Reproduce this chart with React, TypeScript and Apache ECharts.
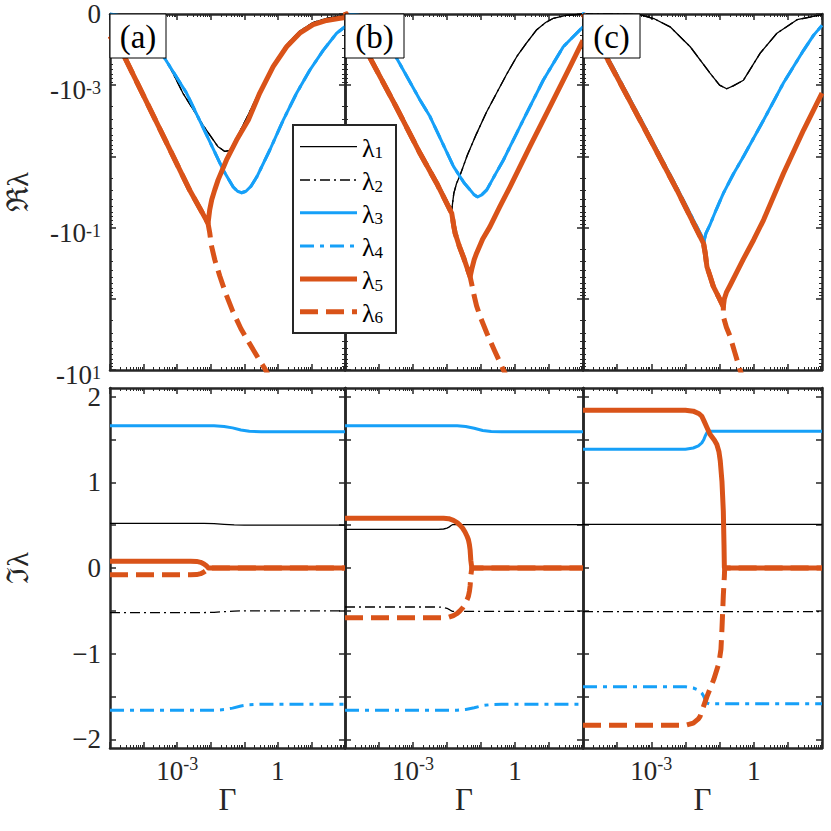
import React, { useEffect, useRef } from 'react';
import * as echarts from 'echarts';

// x values are log10(Γ); top-row y values are log10(−Re λ); bottom-row y values are Im λ.
const GAMMA_MIN = -5;
const GAMMA_MAX = 2;
const RE_MIN = -4;
const RE_MAX = 1;
const IM_MIN = -2.1;
const IM_MAX = 2.1;

const LAMBDA_NAMES = ['λ1', 'λ2', 'λ3', 'λ4', 'λ5', 'λ6'];
const PANEL_TAGS = ['(a)', '(b)', '(c)'];
const GAMMA_TICKS = [-5, -4, -3, -2, -1, 0, 1, 2];
const GAMMA_LABELED = [-3, 0];
const RE_TICKS = [-4, -3, -2, -1, 0, 1];
const RE_LABELED = [-4, -3, -1, 1];
const IM_TICKS = [-2, -1.5, -1, -0.5, 0, 0.5, 1, 1.5, 2];
const IM_LABELED = [-2, -1, 0, 1, 2];

// ---------- Panel (a), real parts ----------
const reA1 = [[-5, -4.0], [-4.6, -3.98], [-4.2, -3.88], [-3.8, -3.66], [-3.36, -3.39], [-2.83, -2.89], [-2.23, -2.44], [-1.79, -2.14], [-1.58, -2.07], [-1.46, -2.08], [-1.4, -2.11], [-1.23, -2.26], [-0.93, -2.54], [-0.54, -2.92], [-0.14, -3.29], [0.26, -3.57], [0.65, -3.76], [1.05, -3.88], [1.45, -3.94], [2.0, -3.98]];
const reA2 = reA1;
const reA3 = [[-5, -4.0], [-4.6, -3.97], [-4.2, -3.87], [-3.8, -3.66], [-3.4, -3.4], [-2.72, -2.89], [-2.12, -2.3], [-1.63, -1.81], [-1.33, -1.57], [-1.2, -1.51], [-1.08, -1.49], [-0.95, -1.51], [-0.8, -1.58], [-0.63, -1.71], [-0.24, -2.09], [0.16, -2.51], [0.56, -2.89], [0.95, -3.21], [1.35, -3.49], [1.75, -3.73], [2.0, -3.82]];
const reA4 = reA3;
const reA5 = [[-5, -3.69], [-4.55, -3.38], [-3.51, -2.38], [-2.62, -1.52], [-2.3, -1.25], [-2.08, -1.06], [-2.03, -1.25], [-1.97, -1.39], [-1.88, -1.53], [-1.78, -1.67], [-1.53, -1.95], [-1.23, -2.23], [-0.88, -2.51], [-0.54, -2.89], [-0.14, -3.26], [0.26, -3.54], [0.65, -3.73], [1.05, -3.85], [1.45, -3.91], [1.85, -3.94], [2.0, -3.95]];
const reA6 = [[-5, -3.69], [-4.55, -3.38], [-3.51, -2.38], [-2.62, -1.52], [-2.3, -1.25], [-2.08, -1.06], [-2.03, -0.93], [-1.98, -0.75], [-1.88, -0.55], [-1.73, -0.32], [-1.55, -0.07], [-1.34, 0.18], [-1.1, 0.42], [-0.83, 0.64], [-0.6, 0.82], [-0.39, 0.98], [-0.3, 1.06]];

// ---------- Panel (b), real parts ----------
const reB1 = [[-5, -4.05], [-4.26, -3.42], [-3.5, -2.74], [-2.79, -2.08], [-2.3, -1.66], [-1.86, -1.25], [-1.8, -1.48], [-1.72, -1.62], [-1.62, -1.73], [-1.4, -2.02], [-1.13, -2.32], [-0.84, -2.62], [-0.54, -2.89], [-0.25, -3.15], [0.05, -3.4], [0.35, -3.6], [0.64, -3.78], [0.9, -3.88], [1.13, -3.94], [1.5, -3.98], [2.0, -4.0]];
const reB2 = reB1;
const reB3 = [[-5, -4.0], [-4.5, -3.98], [-4.1, -3.85], [-3.48, -3.38], [-2.79, -2.79], [-2.5, -2.56], [-1.81, -1.86], [-1.5, -1.63], [-1.32, -1.53], [-1.2, -1.46], [-1.1, -1.43], [-0.98, -1.46], [-0.83, -1.53], [-0.6, -1.73], [-0.34, -1.95], [0.24, -2.51], [0.83, -3.07], [1.42, -3.54], [2.0, -3.82]];
const reB4 = reB3;
const reB5 = [[-5, -4.03], [-4.26, -3.38], [-3.5, -2.7], [-2.79, -2.04], [-2.3, -1.62], [-1.86, -1.2], [-1.8, -1.02], [-1.76, -0.92], [-1.64, -0.74], [-1.52, -0.59], [-1.32, -0.31], [-1.27, -0.42], [-1.2, -0.55], [-1.13, -0.64], [-0.95, -0.84], [-0.74, -1.01], [-0.45, -1.29], [-0.15, -1.57], [0.44, -2.14], [1.03, -2.7], [1.62, -3.26], [2.0, -3.63]];
const reB6 = [[-5, -4.03], [-4.26, -3.38], [-3.5, -2.7], [-2.79, -2.04], [-2.3, -1.62], [-1.86, -1.2], [-1.8, -1.02], [-1.76, -0.92], [-1.64, -0.74], [-1.52, -0.59], [-1.32, -0.31], [-1.27, -0.2], [-1.2, -0.04], [-1.13, 0.1], [-1.0, 0.28], [-0.83, 0.48], [-0.6, 0.73], [-0.34, 1.0], [-0.28, 1.06]];

// ---------- Panel (c), real parts ----------
const reC1 = [[-5, -4.0], [-4.0, -4.0], [-3.33, -3.99], [-2.9, -3.93], [-2.45, -3.82], [-1.86, -3.54], [-1.28, -3.17], [-1.0, -3.0], [-0.79, -2.95], [-0.6, -2.99], [-0.3, -3.07], [0.19, -3.45], [0.68, -3.73], [1.27, -3.92], [2.0, -3.99]];
const reC2 = reC1;
const reC3 = [[-5, -4.03], [-4.3, -3.41], [-3.23, -2.45], [-2.25, -1.56], [-1.5, -0.86], [-1.46, -0.74], [-1.44, -0.84], [-1.4, -0.92], [-1.28, -1.04], [-1.1, -1.25], [-0.89, -1.48], [-0.6, -1.75], [-0.3, -2.0], [0.29, -2.51], [0.87, -3.03], [1.46, -3.49], [1.75, -3.7], [2.0, -3.84]];
const reC4 = reC3;
const reC5 = [[-5, -4.0], [-4.3, -3.38], [-3.23, -2.42], [-2.25, -1.53], [-1.47, -0.78], [-1.42, -0.64], [-1.37, -0.45], [-1.28, -0.32], [-1.18, -0.17], [-1.0, 0.0], [-0.89, 0.11], [-0.86, 0.0], [-0.8, -0.09], [-0.69, -0.19], [-0.5, -0.37], [-0.3, -0.56], [0.0, -0.83], [0.29, -1.11], [0.87, -1.76], [1.46, -2.37], [2.0, -2.89]];
const reC6 = [[-5, -4.0], [-4.3, -3.38], [-3.23, -2.42], [-2.25, -1.53], [-1.47, -0.78], [-1.42, -0.64], [-1.37, -0.45], [-1.28, -0.32], [-1.18, -0.17], [-1.0, 0.0], [-0.89, 0.11], [-0.89, 0.25], [-0.8, 0.4], [-0.69, 0.53], [-0.55, 0.76], [-0.4, 1.0], [-0.35, 1.07]];

// ---------- Panel (a), imaginary parts ----------
const imA1 = [[-5, 0.52], [-2.2, 0.52], [-1.9, 0.517], [-1.6, 0.51], [-1.3, 0.503], [-1.0, 0.5], [2, 0.5]];
const imA2 = [[-5, -0.52], [-2.2, -0.52], [-1.9, -0.517], [-1.6, -0.51], [-1.3, -0.503], [-1.0, -0.5], [2, -0.5]];
const imA3 = [[-5, 1.66], [-1.9, 1.66], [-1.6, 1.652], [-1.35, 1.635], [-1.1, 1.61], [-0.85, 1.595], [-0.5, 1.59], [2, 1.59]];
const imA4 = [[-5, -1.66], [-1.9, -1.66], [-1.6, -1.652], [-1.35, -1.635], [-1.1, -1.61], [-0.85, -1.595], [-0.5, -1.59], [2, -1.59]];
const imA5 = [[-5, 0.08], [-2.6, 0.08], [-2.42, 0.077], [-2.3, 0.066], [-2.2, 0.047], [-2.14, 0.03], [-2.1, 0.015], [-2.07, 0], [2, 0]];
const imA6 = [[-5, -0.08], [-2.6, -0.08], [-2.42, -0.077], [-2.3, -0.066], [-2.2, -0.047], [-2.14, -0.03], [-2.1, -0.015], [-2.07, 0], [2, 0]];

// ---------- Panel (b), imaginary parts ----------
const imB1 = [[-5, 0.45], [-2.25, 0.45], [-2.1, 0.455], [-2.0, 0.465], [-1.93, 0.48], [-1.88, 0.495], [-1.84, 0.505], [2, 0.505]];
const imB2 = [[-5, -0.455], [-2.25, -0.455], [-2.1, -0.46], [-2.0, -0.47], [-1.93, -0.485], [-1.88, -0.498], [-1.84, -0.505], [2, -0.505]];
const imB3 = [[-5, 1.66], [-1.7, 1.66], [-1.45, 1.65], [-1.2, 1.63], [-0.95, 1.605], [-0.7, 1.593], [-0.4, 1.59], [2, 1.59]];
const imB4 = [[-5, -1.66], [-1.7, -1.66], [-1.45, -1.65], [-1.2, -1.63], [-0.95, -1.605], [-0.7, -1.593], [-0.4, -1.59], [2, -1.59]];
const imB5 = [[-5, 0.58], [-2.1, 0.58], [-1.95, 0.575], [-1.81, 0.555], [-1.7, 0.53], [-1.62, 0.5], [-1.54, 0.465], [-1.47, 0.42], [-1.41, 0.37], [-1.37, 0.33], [-1.34, 0.27], [-1.32, 0.21], [-1.3, 0.09], [-1.28, 0.03], [-1.27, 0], [2, 0]];
const imB6 = [[-5, -0.58], [-2.1, -0.58], [-1.95, -0.575], [-1.81, -0.555], [-1.7, -0.53], [-1.62, -0.5], [-1.54, -0.465], [-1.47, -0.42], [-1.41, -0.37], [-1.37, -0.33], [-1.34, -0.27], [-1.32, -0.21], [-1.3, -0.09], [-1.28, -0.03], [-1.27, 0], [2, 0]];

// ---------- Panel (c), imaginary parts ----------
const imC1 = [[-5, 0.51], [2, 0.51]];
const imC2 = [[-5, -0.51], [2, -0.51]];
const imC3 = [[-5, 1.385], [-2.0, 1.385], [-1.77, 1.4], [-1.62, 1.425], [-1.52, 1.46], [-1.46, 1.5], [-1.42, 1.54], [-1.37, 1.58], [-1.3, 1.595], [2, 1.595]];
const imC4 = [[-5, -1.385], [-2.0, -1.385], [-1.77, -1.4], [-1.62, -1.425], [-1.52, -1.46], [-1.46, -1.5], [-1.42, -1.54], [-1.37, -1.575], [-1.3, -1.585], [2, -1.585]];
const imC5 = [[-5, 1.84], [-2.0, 1.84], [-1.77, 1.83], [-1.6, 1.8], [-1.52, 1.77], [-1.45, 1.71], [-1.37, 1.64], [-1.28, 1.56], [-1.15, 1.49], [-1.08, 1.44], [-1.02, 1.36], [-0.98, 1.25], [-0.93, 1.01], [-0.89, 0.66], [-0.87, 0.27], [-0.86, 0.01], [-0.85, 0], [2, 0]];
const imC6 = [[-5, -1.835], [-2.0, -1.835], [-1.77, -1.81], [-1.62, -1.76], [-1.57, -1.73], [-1.47, -1.615], [-1.37, -1.5], [-1.25, -1.38], [-1.17, -1.3], [-1.02, -1.11], [-0.96, -0.95], [-0.93, -0.71], [-0.89, -0.32], [-0.86, -0.1], [-0.85, 0], [2, 0]];

const RE_DATA = [
  [reA1, reA2, reA3, reA4, reA5, reA6],
  [reB1, reB2, reB3, reB4, reB5, reB6],
  [reC1, reC2, reC3, reC4, reC5, reC6],
];
const IM_DATA = [
  [imA1, imA2, imA3, imA4, imA5, imA6],
  [imB1, imB2, imB3, imB4, imB5, imB6],
  [imC1, imC2, imC3, imC4, imC5, imC6],
];

// ---------- styles & layout ----------
const FONT = 'Liberation Serif, DejaVu Serif, serif';
const FRAME = '#262626';
const BLACK = '#000000';
const BLUE = '#16A0F8';
const ORANGE = '#D95319';
const LINE_STYLES = [
  { color: BLACK, width: 1.3, type: 'solid' as any },
  { color: BLACK, width: 1.3, type: [10, 4, 2, 4] as any },
  { color: BLUE, width: 3, type: 'solid' as any },
  { color: BLUE, width: 3, type: [14, 6, 4, 6] as any },
  { color: ORANGE, width: 5, type: 'solid' as any },
  { color: ORANGE, width: 5, type: [18, 8] as any },
];
const GRID_LEFT = [110, 345, 583];
const GRID_WIDTH = [235, 238, 239];
const ROW_TOP = [14, 388];
const ROW_HEIGHT = [356, 360];
const TAG_BOX_WIDTH = [56, 59, 57];
const TAG_BOX_HEIGHT = 44;
const LEGEND_BOX = { x: 293, y: 125, w: 103, h: 208 };
const LEGEND_ROWS_Y = [146.7, 180, 212.7, 246, 279, 311.7];

function logMinor(from: number, to: number) {
  const out: number[] = [];
  for (let n = from; n < to; n++) for (let k = 2; k <= 9; k++) out.push(n + Math.log10(k));
  return out;
}
const GAMMA_MINOR = logMinor(GAMMA_MIN, GAMMA_MAX);
const RE_MINOR = logMinor(RE_MIN, RE_MAX);

const near = (a: number, b: number) => Math.abs(a - b) < 1e-6;

const richSup = {
  b: { fontFamily: FONT, fontSize: 27, lineHeight: 32, color: FRAME },
  s: { fontFamily: FONT, fontSize: 18, lineHeight: 18, verticalAlign: 'top', color: FRAME },
  z: { fontFamily: FONT, fontSize: 27, lineHeight: 32, color: FRAME },
  bp: { fontFamily: FONT, fontSize: 27, lineHeight: 32, padding: [10, 0, 0, 0], color: FRAME },
  sp: { fontFamily: FONT, fontSize: 18, lineHeight: 18, padding: [10, 0, 0, 0], verticalAlign: 'top', color: FRAME },
};

function gammaLabel(v: number) {
  if (near(v, 0)) return '{b|1}';
  return '{b|10}{s|' + Math.round(v) + '}';
}
function reLabel(v: number) {
  if (near(v, RE_MIN)) return '{z|0}';
  return '{bp|-10}{sp|' + Math.round(v) + '}';
}
function imLabel(v: number) {
  const r = Math.round(v);
  return '{z|' + (r < 0 ? '\u2212' + Math.abs(r) : String(r)) + '}';
}

function axisLineStyle(show: boolean) {
  return { show, onZero: false, lineStyle: { color: FRAME, width: 2.5 } };
}

function buildOption() {
  const grid: any[] = [];
  const xAxis: any[] = [];
  const yAxis: any[] = [];
  const series: any[] = [];

  for (let r = 0; r < 2; r++) {
    for (let c = 0; c < 3; c++) {
      const g = r * 3 + c;
      grid.push({
        left: GRID_LEFT[c], top: ROW_TOP[r], width: GRID_WIDTH[c], height: ROW_HEIGHT[r],
        containLabel: false, outerBoundsMode: 'none',
      });
      const bottomRow = r === 1;
      for (const pos of ['bottom', 'top']) {
        const labeled = bottomRow && pos === 'bottom';
        xAxis.push({
          type: 'value', gridIndex: g, position: pos, min: GAMMA_MIN, max: GAMMA_MAX,
          splitLine: { show: false },
          axisLine: axisLineStyle(true),
          axisTick: { show: true, inside: true, length: 6, customValues: GAMMA_TICKS, lineStyle: { color: FRAME, width: 1.5 } },
          axisLabel: labeled
            ? { show: true, customValues: GAMMA_LABELED, formatter: gammaLabel, margin: 7, rich: richSup, fontFamily: FONT, fontSize: 27, color: FRAME }
            : { show: false },
          name: labeled ? 'Γ' : '',
          nameLocation: 'middle', nameGap: 36, nameMoveOverlap: false,
          nameTextStyle: { fontFamily: FONT, fontSize: 31, color: FRAME },
        });
      }
      for (const pos of ['bottom', 'top']) {
        xAxis.push({
          type: 'value', gridIndex: g, position: pos, min: GAMMA_MIN, max: GAMMA_MAX,
          splitLine: { show: false },
          axisLine: axisLineStyle(false),
          axisTick: { show: true, inside: true, length: 3, customValues: GAMMA_MINOR, lineStyle: { color: FRAME, width: 1 } },
          axisLabel: { show: false },
        });
      }
      for (const pos of ['left', 'right']) {
        const labeled = c === 0 && pos === 'left';
        yAxis.push({
          type: 'value', gridIndex: g, position: pos,
          min: bottomRow ? IM_MIN : RE_MIN, max: bottomRow ? IM_MAX : RE_MAX,
          inverse: !bottomRow,
          splitLine: { show: false },
          axisLine: axisLineStyle(true),
          axisTick: { show: true, inside: true, length: 6, customValues: bottomRow ? IM_TICKS : RE_TICKS, lineStyle: { color: FRAME, width: 1.5 } },
          axisLabel: labeled
            ? { show: true, customValues: bottomRow ? IM_LABELED : RE_LABELED, formatter: bottomRow ? imLabel : reLabel, margin: 9, rich: richSup, fontFamily: FONT, fontSize: 27, color: FRAME }
            : { show: false },
          name: labeled ? (bottomRow ? '\u2111\u03BB' : '\u211C\u03BB') : '',
          nameLocation: 'middle', nameGap: 78, nameRotate: 90, nameMoveOverlap: false,
          nameTextStyle: { fontFamily: FONT, fontSize: 30, color: FRAME },
        });
      }
      for (const pos of ['left', 'right']) {
        yAxis.push({
          type: 'value', gridIndex: g, position: pos,
          min: bottomRow ? IM_MIN : RE_MIN, max: bottomRow ? IM_MAX : RE_MAX,
          inverse: !bottomRow,
          splitLine: { show: false },
          axisLine: axisLineStyle(false),
          axisTick: { show: !bottomRow, inside: true, length: 3, customValues: bottomRow ? [] : RE_MINOR, lineStyle: { color: FRAME, width: 1 } },
          axisLabel: { show: false },
        });
      }
      const data = bottomRow ? IM_DATA[c] : RE_DATA[c];
      for (let k = 0; k < 6; k++) {
        const st = LINE_STYLES[k];
        series.push({
          type: 'line', name: LAMBDA_NAMES[k], xAxisIndex: g * 4, yAxisIndex: g * 4,
          data: data[k], symbol: 'none', showSymbol: false, clip: true, silent: true,
          lineStyle: { color: st.color, width: st.width, type: st.type, cap: 'butt', join: 'round' },
          emphasis: { disabled: true }, z: 2 + k * 0.01,
        });
      }
    }
  }

  const graphic: any[] = [];
  for (let c = 0; c < 3; c++) {
    graphic.push({
      type: 'rect', z: 50,
      shape: { x: GRID_LEFT[c], y: ROW_TOP[0], width: TAG_BOX_WIDTH[c], height: TAG_BOX_HEIGHT },
      style: { fill: '#ffffff', stroke: BLACK, lineWidth: 1 },
    });
    graphic.push({
      type: 'text', z: 51,
      x: GRID_LEFT[c] + TAG_BOX_WIDTH[c] / 2, y: ROW_TOP[0] + TAG_BOX_HEIGHT / 2 + 1,
      style: { text: PANEL_TAGS[c], fontFamily: FONT, fontSize: 33, fill: BLACK, align: 'center', verticalAlign: 'middle', textAlign: 'center', textVerticalAlign: 'middle' },
    });
  }
  graphic.push({
    type: 'rect', z: 60,
    shape: { x: LEGEND_BOX.x, y: LEGEND_BOX.y, width: LEGEND_BOX.w, height: LEGEND_BOX.h },
    style: { fill: '#ffffff', stroke: FRAME, lineWidth: 2 },
  });
  for (let k = 0; k < 6; k++) {
    const st = LINE_STYLES[k];
    const y = LEGEND_ROWS_Y[k];
    graphic.push({
      type: 'line', z: 61,
      shape: { x1: LEGEND_BOX.x + 7, y1: y, x2: LEGEND_BOX.x + 64, y2: y },
      style: { stroke: st.color, lineWidth: st.width, lineDash: Array.isArray(st.type) ? st.type : null, lineCap: 'butt' },
    });
    graphic.push({
      type: 'text', z: 61,
      x: LEGEND_BOX.x + 69, y: y + 1.5,
      style: {
        text: '{l|λ}{s|' + LAMBDA_NAMES[k].slice(1) + '}',
        rich: {
          l: { fontFamily: FONT, fontSize: 26, lineHeight: 26, fill: BLACK },
          s: { fontFamily: FONT, fontSize: 17, lineHeight: 17, verticalAlign: 'bottom', fill: BLACK },
        },
        fontFamily: FONT, fontSize: 26, fill: BLACK,
        align: 'left', verticalAlign: 'middle', textAlign: 'left', textVerticalAlign: 'middle',
      },
    });
  }

  return {
    animation: false,
    backgroundColor: '#ffffff',
    textStyle: { fontFamily: FONT },
    grid, xAxis, yAxis, series, graphic,
  };
}

export default function App() {
  const ref = useRef<HTMLDivElement>(null);
  useEffect(() => {
    if (!ref.current) return;
    const chart = echarts.init(ref.current, null, { renderer: 'svg' });
    chart.setOption(buildOption() as any);
    return () => chart.dispose();
  }, []);
  return <div ref={ref} style={{ position: 'absolute', left: 0, top: 0, width: 831, height: 831, background: '#fff' }} />;
}
